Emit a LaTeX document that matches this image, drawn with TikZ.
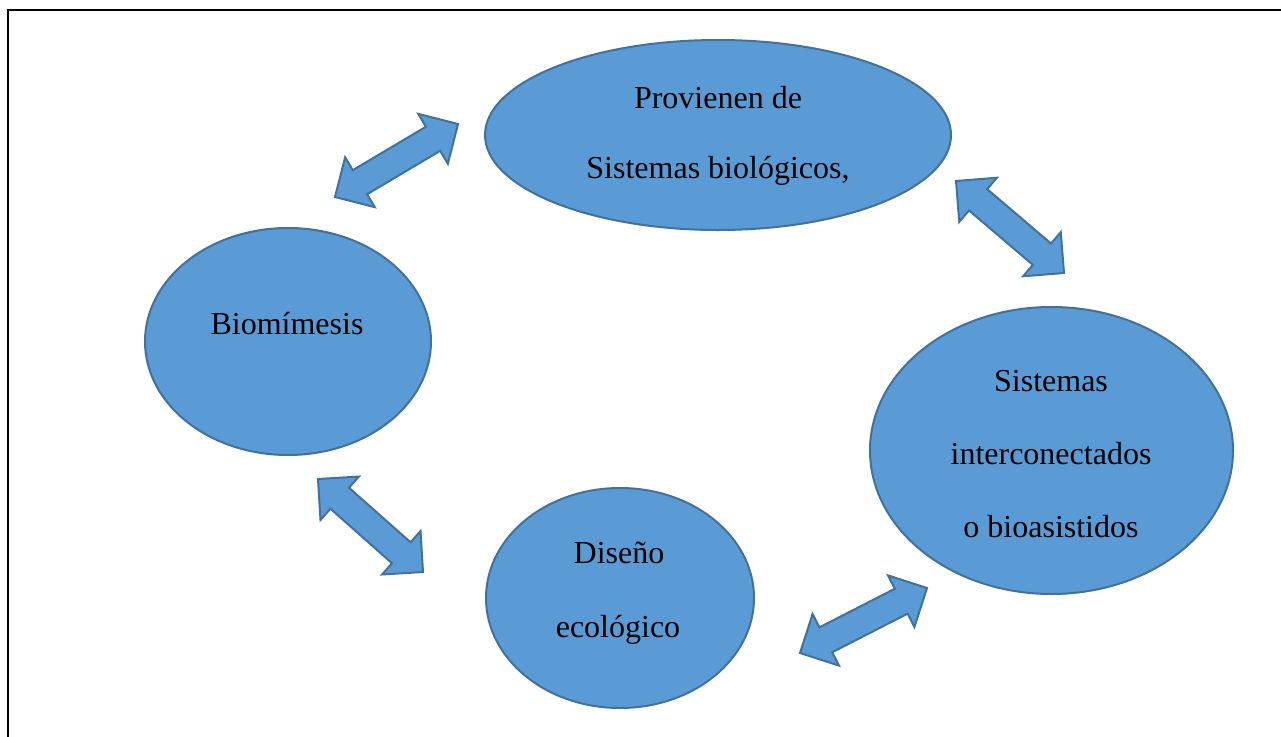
\documentclass[tikz,border=0pt]{standalone}
\usepackage{fontspec}
\setmainfont{Liberation Serif}
\usetikzlibrary{shapes.geometric,calc}
\definecolor{bfill}{HTML}{5B9BD5}
\definecolor{bline}{HTML}{41719C}
\tikzset{
  bubble/.style={ellipse, draw=bline, fill=bfill, line width=2pt, inner sep=0pt, outer sep=0pt},
  lbl/.style={anchor=base, inner sep=0pt, font=\fontsize{32}{38}\selectfont, text=black},
  barrow/.style={draw=bline, fill=bfill, line width=2pt, line join=miter},
  frameline/.style={draw=black, line width=2pt}
}
\newcommand{\blockarrow}[2]{%
  \draw[barrow] (#1)
    -- ($(#1)!29pt!(#2)!29pt!90:(#2)$)
    -- ($(#1)!29pt!(#2)!14pt!90:(#2)$)
    -- ($(#2)!29pt!(#1)!14pt!-90:(#1)$)
    -- ($(#2)!29pt!(#1)!29pt!-90:(#1)$)
    -- (#2)
    -- ($(#2)!29pt!(#1)!29pt!90:(#1)$)
    -- ($(#2)!29pt!(#1)!14pt!90:(#1)$)
    -- ($(#1)!29pt!(#2)!14pt!-90:(#2)$)
    -- ($(#1)!29pt!(#2)!29pt!-90:(#2)$)
    -- cycle;}
\begin{document}
\begin{tikzpicture}[x=1pt,y=-1pt]
  \useasboundingbox (0,0) rectangle (1281,736);
  \fill[white] (0,0) rectangle (1281,736);
  \draw[frameline] (8,737) -- (8,10) -- (1282,10);

  % ellipses
  \node[bubble, minimum width=466pt, minimum height=190pt] (prov) at (718,135) {};
  \node[bubble, minimum width=286pt, minimum height=227pt] (bio) at (288,341.5) {};
  \node[bubble, minimum width=363pt, minimum height=287pt] (sis) at (1051.5,450.5) {};
  \node[bubble, minimum width=268pt, minimum height=220pt] (dis) at (620,598) {};

  % texts
  \node[lbl] (prov1) at (718,108) {Provienen de};
  \node[lbl] (prov2) at (718,178) {Sistemas biológicos,};
  \node[lbl] (bio1) at (287,334) {Biomímesis};
  \node[lbl] (sis1) at (1051,391) {Sistemas};
  \node[lbl] (sis2) at (1051,464) {interconectados};
  \node[lbl] (sis3) at (1051,537) {o bioasistidos};
  \node[lbl] (dis1) at (619,563) {Diseño};
  \node[lbl] (dis2) at (618,637) {ecológico};

  % block arrows
  \coordinate (a1s) at (335,197);
  \coordinate (a1e) at (458,124);
  \coordinate (a2s) at (956,181);
  \coordinate (a2e) at (1064,273);
  \coordinate (a3s) at (318,479);
  \coordinate (a3e) at (423,572);
  \coordinate (a4s) at (800,653);
  \coordinate (a4e) at (927,588);
  \blockarrow{a1s}{a1e}
  \blockarrow{a2s}{a2e}
  \blockarrow{a3s}{a3e}
  \blockarrow{a4s}{a4e}
\end{tikzpicture}
\end{document}
